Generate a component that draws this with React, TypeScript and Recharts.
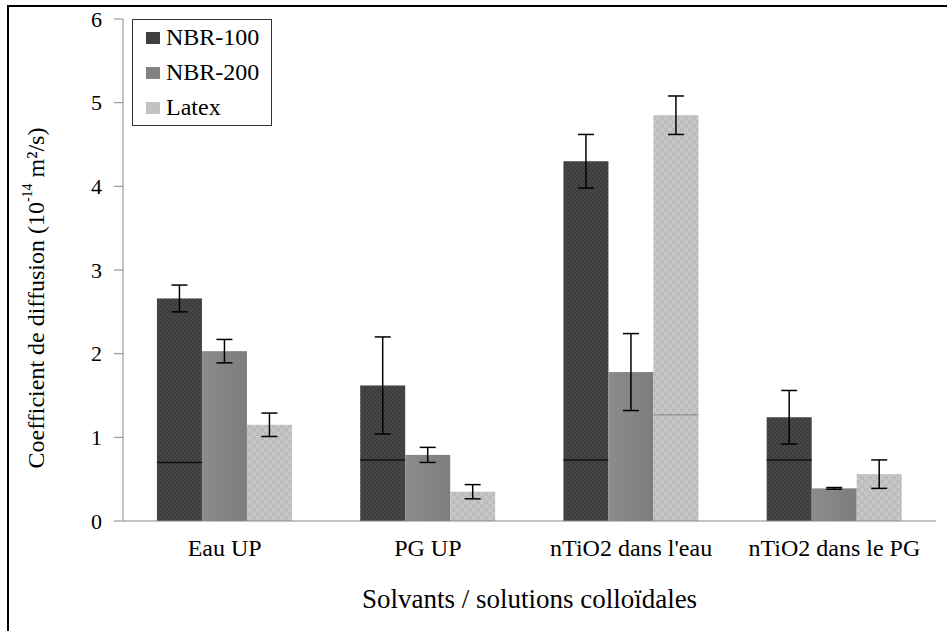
import React from 'react';
import { BarChart, Bar, XAxis, YAxis, ErrorBar } from 'recharts';

const categories = ['Eau UP', 'PG UP', "nTiO2 dans l'eau", 'nTiO2 dans le PG'];
const nbr100 = [2.66, 1.62, 4.3, 1.24];
const nbr100Err = [0.16, 0.58, 0.32, 0.32];
const nbr200 = [2.03, 0.79, 1.78, 0.39];
const nbr200Err = [0.14, 0.09, 0.46, 0.01];
const latex = [1.15, 0.35, 4.85, 0.56];
const latexErr = [0.14, 0.085, 0.23, 0.17];
// lignes horizontales visibles dans certaines barres
const nbr100Inner = [0.7, 0.73, 0.73, 0.73];
const latexInner: (number | null)[] = [null, null, 1.27, null];

const yTicks = [0, 1, 2, 3, 4, 5, 6];

const data = categories.map((name, i) => ({
    name,
    nbr100: nbr100[i],
    nbr100Err: nbr100Err[i],
    nbr100Inner: nbr100Inner[i],
    nbr200: nbr200[i],
    nbr200Err: nbr200Err[i],
    latex: latex[i],
    latexErr: latexErr[i],
    latexInner: latexInner[i],
}));

const FONT = 'Liberation Serif, Tinos, Times New Roman, DejaVu Serif, serif';

const makeShape = (innerKey: string | null, lineColor: string) => (props: any) => {
    const { x, y, width, height, fill, payload, value } = props;
    const v = Array.isArray(value) ? value[1] : value;
    const inner = innerKey ? payload?.[innerKey] : null;
    let lineY: number | null = null;
    if (inner != null && v) {
        lineY = y + height - (inner / v) * height;
    }
    return (
        <g>
            <rect x={x} y={y} width={width} height={height} fill={fill} />
            {lineY != null && (
                <line x1={x} x2={x + width} y1={lineY} y2={lineY} stroke={lineColor} strokeWidth={1.5} />
            )}
        </g>
    );
};

const legendItems = [
    { label: 'NBR-100', color: '#404040' },
    { label: 'NBR-200', color: '#828282' },
    { label: 'Latex', color: '#c2c2c2' },
];

const LegendBox = () => (
    <div
        style={{
            position: 'absolute',
            left: 132,
            top: 19,
            width: 140,
            height: 107,
            border: '1px solid #333',
            background: '#fff',
            boxSizing: 'border-box',
            fontFamily: FONT,
            fontSize: 24,
            color: '#000',
        }}
    >
        {legendItems.map((it) => (
            <div key={it.label} style={{ display: 'flex', alignItems: 'center', height: 35, paddingLeft: 13 }}>
                <div style={{ width: 14, height: 12, background: it.color, marginRight: 6 }} />
                <span>{it.label}</span>
            </div>
        ))}
    </div>
);

const YTitle = (props: any) => {
    const { viewBox } = props;
    const cx = 38;
    const cy = viewBox.y + viewBox.height / 2 + 28;
    return (
        <text x={cx} y={cy} transform={`rotate(-90, ${cx}, ${cy})`} textAnchor="middle" dominantBaseline="middle" style={{ fontFamily: FONT, fontSize: 24 }} fill="#000">
            Coefficient de diffusion (10
            <tspan style={{ fontSize: 14 }} dy={-9}>-14</tspan>
            <tspan dy={9}> m²/s)</tspan>
        </text>
    );
};

export default function App() {
    return (
        <div style={{ position: 'absolute', left: 0, top: 0, width: 947, height: 631, background: '#fff', overflow: 'hidden', fontFamily: FONT }}>
            <div
                style={{
                    position: 'absolute',
                    left: 7,
                    top: 5,
                    width: 960,
                    height: 640,
                    borderTop: '2px solid #000',
                    borderLeft: '2px solid #000',
                }}
            />
            <div style={{ position: 'absolute', left: 0, top: 0 }}>
                <BarChart
                    width={947}
                    height={631}
                    data={data}
                    margin={{ top: 19, right: 11, left: 60, bottom: 50 }}
                    barCategoryGap="16.7%"
                    barGap={0}
                    style={{ fontFamily: FONT }}
                >
                    <defs>
                        <pattern id="pDark" width="4" height="4" patternUnits="userSpaceOnUse">
                            <rect width="4" height="4" fill="#3d3d3d" />
                            <rect width="2" height="2" fill="#474747" />
                            <rect x="2" y="2" width="2" height="2" fill="#474747" />
                        </pattern>
                        <linearGradient id="gMid" x1="0" y1="0" x2="1" y2="0">
                            <stop offset="0%" stopColor="#8c8c8c" />
                            <stop offset="100%" stopColor="#7d7d7d" />
                        </linearGradient>
                        <pattern id="pLight" width="8" height="8" patternUnits="userSpaceOnUse">
                            <rect width="8" height="8" fill="#c6c6c6" />
                            <rect width="4" height="4" fill="#bcbcbc" />
                            <rect x="4" y="4" width="4" height="4" fill="#bcbcbc" />
                        </pattern>
                    </defs>
                    <XAxis
                        dataKey="name"
                        stroke="#888"
                        tickLine={false}
                        tick={{ style: { fontFamily: FONT, fontSize: 24 }, fill: '#000' }}
                        tickMargin={12}
                        height={60}
                        label={{ value: 'Solvants / solutions colloïdales', position: 'insideBottom', offset: -27, style: { fontFamily: FONT, fontSize: 27 }, fill: '#000' }}
                    />
                    <YAxis
                        domain={[0, 6]}
                        ticks={yTicks}
                        stroke="#888"
                        tickSize={9}
                        tickMargin={12}
                        width={63}
                        tick={{ style: { fontFamily: FONT, fontSize: 22 }, fill: '#000' }}
                        label={<YTitle />}
                    />
                    <Bar dataKey="nbr100" name="NBR-100" fill="url(#pDark)" isAnimationActive={false} shape={makeShape('nbr100Inner', '#111')}>
                        <ErrorBar dataKey="nbr100Err" width={8} stroke="#000" strokeWidth={1.5} direction="y" />
                    </Bar>
                    <Bar dataKey="nbr200" name="NBR-200" fill="url(#gMid)" isAnimationActive={false} shape={makeShape(null, '#000')}>
                        <ErrorBar dataKey="nbr200Err" width={8} stroke="#000" strokeWidth={1.5} direction="y" />
                    </Bar>
                    <Bar dataKey="latex" name="Latex" fill="url(#pLight)" isAnimationActive={false} shape={makeShape('latexInner', '#9a9a9a')}>
                        <ErrorBar dataKey="latexErr" width={8} stroke="#000" strokeWidth={1.5} direction="y" />
                    </Bar>
                </BarChart>
            </div>
            <LegendBox />
        </div>
    );
}
